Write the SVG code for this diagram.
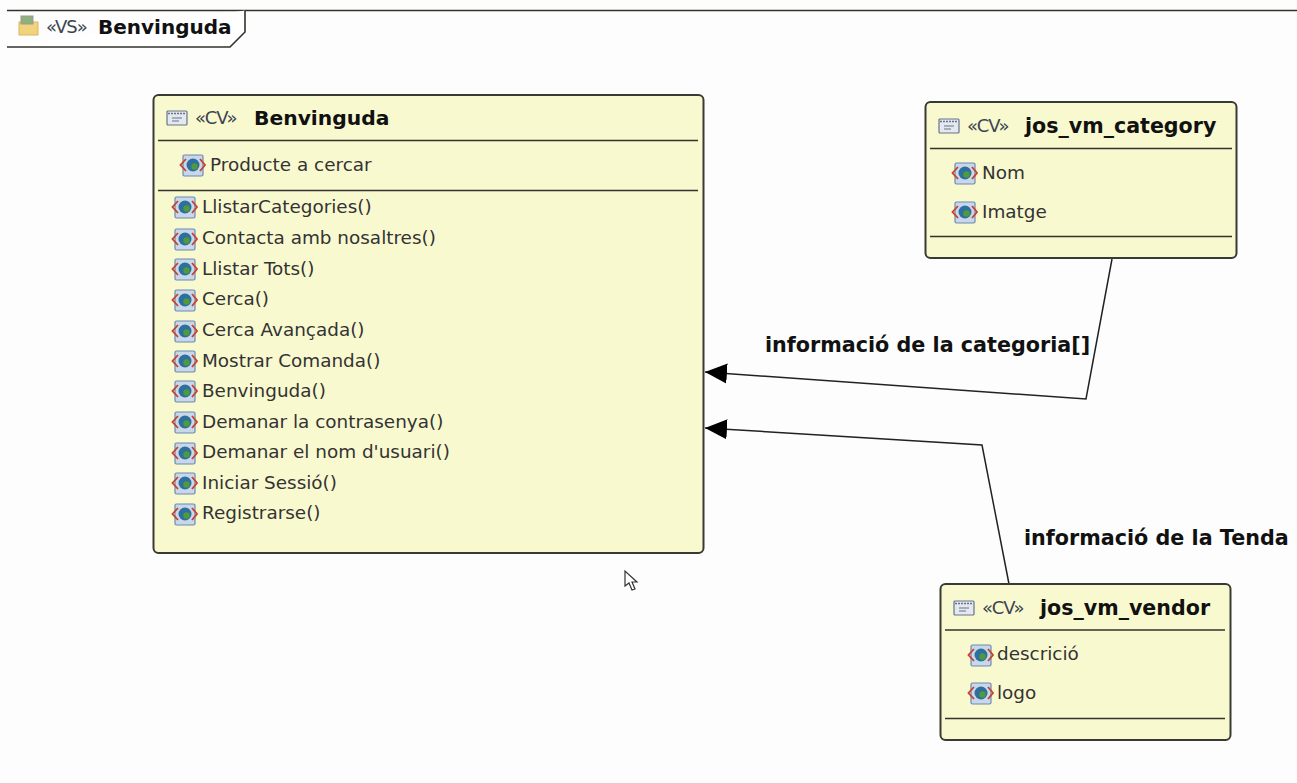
<svg xmlns="http://www.w3.org/2000/svg" width="1297" height="783" viewBox="0 0 1297 783">
<style>
.box{fill:#f9f9d0;stroke:#3a3a34;stroke-width:2}
.sep{stroke:#33332c;stroke-width:1.6;fill:none}
.t{font-family:"DejaVu Sans",sans-serif;font-size:18.4px;fill:#333}
.s{font-family:"DejaVu Sans",sans-serif;font-size:18px;fill:#3c4450;letter-spacing:-1px}
.b{font-family:"DejaVu Sans",sans-serif;font-size:20.6px;font-weight:bold;fill:#111}
.l{font-family:"DejaVu Sans",sans-serif;font-size:20.7px;font-weight:bold;fill:#111}
.c{fill:none;stroke:#222;stroke-width:1.5}
</style>
<defs>
<marker id="arrow" markerUnits="userSpaceOnUse" markerWidth="24" markerHeight="24" refX="22" refY="11" orient="auto"><path d="M0,1 L22,11 L0,21 Z" fill="#000"/></marker>
<g id="attr">
<rect x="-8" y="-10" width="20" height="21" rx="1.500" fill="#c8d8ea" stroke="#6a8ab0" stroke-width="1.200"/>
<path d="M-5,-6 L-10.500,0 L-5,6 M9,-6 L14,0 L9,6" fill="none" stroke="#c8402f" stroke-width="1.800"/>
<circle cx="2" cy="0" r="6.500" fill="#2f6f9f"/><circle cx="3.500" cy="1.500" r="3.200" fill="#4f9a3a"/>
</g>
<g id="cvicon">
<rect x="0" y="0" width="20" height="14" rx="1" fill="#e4e8f0" stroke="#66748a" stroke-width="1.200"/>
<path d="M1,2.500 H19" stroke="#66748a" stroke-dasharray="2 1" stroke-width="1.400"/>
<path d="M5,7 H15 M5,10 H12" stroke="#66748a" stroke-width="1"/>
</g>
</defs>
<rect width="1297" height="783" fill="#fdfdfd"/>
<g id="frame">
<path d="M7,10.500 H1297" class="sep"/>
<path d="M245,10.500 V32 L230,47 H7" fill="#fff" stroke="#33332c" stroke-width="1.600"/>
<rect x="19" y="22" width="19" height="13" fill="#f2d27a" stroke="#d8b860"/>
<rect x="21" y="16" width="12" height="8" fill="#8fb07a" stroke="#9a9a9a"/>
<text x="46" y="33" class="s">«VS»</text>
<text x="98" y="34" class="b" style="font-size:20px">Benvinguda</text>
</g>
<g id="connectors">
<path class="c" d="M1112,259 L1086,399 L705,372" marker-end="url(#arrow)"/>
<path class="c" d="M1009,584 L982,445 L705,428" marker-end="url(#arrow)"/>
<text x="765" y="352" class="l">informació de la categoria[]</text>
<text x="1024" y="545" class="l">informació de la Tenda</text>
</g>
<g id="node-benvinguda">
<rect x="153.500" y="95" width="550" height="458" rx="5" class="box"/>
<use href="#cvicon" x="167" y="111"/>
<text x="195" y="124" class="s">«CV»</text>
<text x="254" y="125" class="b" style="font-size:20.3px">Benvinguda</text>
<path class="sep" d="M158,140.500 H698 M158,190.500 H698"/>
<use href="#attr" x="191" y="165"/><text x="210" y="171" class="t">Producte a cercar</text>
<use href="#attr" x="183" y="207"/><text x="202" y="213" class="t">LlistarCategories()</text>
<use href="#attr" x="183" y="239"/><text x="202" y="244" class="t">Contacta amb nosaltres()</text>
<use href="#attr" x="183" y="269"/><text x="202" y="275" class="t">Llistar Tots()</text>
<use href="#attr" x="183" y="300"/><text x="202" y="305" class="t">Cerca()</text>
<use href="#attr" x="183" y="331"/><text x="202" y="336" class="t">Cerca Avançada()</text>
<use href="#attr" x="183" y="361"/><text x="202" y="367" class="t">Mostrar Comanda()</text>
<use href="#attr" x="183" y="391"/><text x="202" y="397" class="t">Benvinguda()</text>
<use href="#attr" x="183" y="422"/><text x="202" y="428" class="t">Demanar la contrasenya()</text>
<use href="#attr" x="183" y="453"/><text x="202" y="458" class="t">Demanar el nom d'usuari()</text>
<use href="#attr" x="183" y="483"/><text x="202" y="489" class="t">Iniciar Sessió()</text>
<use href="#attr" x="183" y="514"/><text x="202" y="519" class="t">Registrarse()</text>
</g>
<g id="node-category">
<rect x="925.500" y="102" width="311" height="156" rx="5" class="box"/>
<use href="#cvicon" x="939" y="119"/>
<text x="967" y="132" class="s">«CV»</text>
<text x="1025" y="133" class="b">jos_vm_category</text>
<path class="sep" d="M930,148.500 H1232 M930,236.500 H1232"/>
<use href="#attr" x="963" y="173"/><text x="982" y="179" class="t">Nom</text>
<use href="#attr" x="963" y="212"/><text x="982" y="218" class="t">Imatge</text>
</g>
<g id="node-vendor">
<rect x="940.500" y="584" width="290" height="156" rx="5" class="box"/>
<use href="#cvicon" x="954" y="601"/>
<text x="982" y="614" class="s">«CV»</text>
<text x="1040" y="615" class="b">jos_vm_vendor</text>
<path class="sep" d="M945,630 H1225 M945,718.500 H1225"/>
<use href="#attr" x="979" y="655"/><text x="997" y="660" class="t">descrició</text>
<use href="#attr" x="979" y="693"/><text x="997" y="699" class="t">logo</text>
</g>
<path id="cursor" d="M625,571 V586 L629,583 L632,590 L635,589 L632,582 L637,582 Z" fill="#fff" stroke="#333" stroke-width="1.200"/>
</svg>
